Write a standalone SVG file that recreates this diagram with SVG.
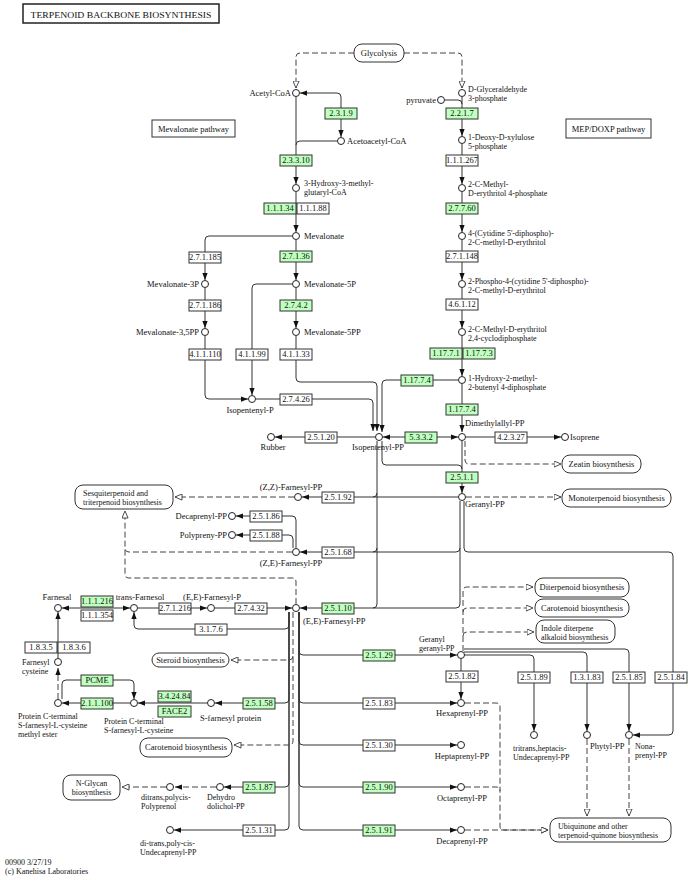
<svg xmlns="http://www.w3.org/2000/svg" width="697" height="881" viewBox="0 0 697 881">
<defs>
<style>
text{font-family:"Liberation Serif","Times New Roman",serif;font-size:8.5px;fill:#111}
.s{font-size:8px}
.t{text-anchor:middle}
.r{text-anchor:end}
.e{fill:#fff;stroke:#333;stroke-width:1}
.g{fill:#bfffbf;stroke:#333;stroke-width:1}
.c{fill:#fff;stroke:#222;stroke-width:1}
.m{fill:#fff;stroke:#333;stroke-width:1}
.l{fill:none;stroke:#333;stroke-width:1}
.d{fill:none;stroke:#444;stroke-width:1;stroke-dasharray:6,3}
.ae{marker-end:url(#a)}
.ab{marker-start:url(#a);marker-end:url(#a)}
.oe{marker-end:url(#o)}
</style>
<marker id="a" viewBox="0 0 8 6" refX="8" refY="3" markerWidth="7" markerHeight="5.5" markerUnits="userSpaceOnUse" orient="auto-start-reverse"><path d="M0,0L8,3L0,6z" fill="#111"/></marker>
<marker id="o" viewBox="0 0 9 8" refX="8.5" refY="4" markerWidth="8" markerHeight="7" markerUnits="userSpaceOnUse" orient="auto"><path d="M0.5,0.5L8.5,4L0.5,7.5z" fill="#fff" stroke="#333" stroke-width="1"/></marker>
</defs>
<rect width="697" height="881" fill="#fff"/>

<g id="connectors">
<path class="l ab" d="M341,137V97Q341,93 337,93H300"/>
<path class="l ae" d="M296,97V184"/>
<path class="l" d="M337,141H300Q296,141 296,145"/>
<path class="l ae" d="M296,192V232"/>
<path class="l ae" d="M296,240V280"/>
<path class="l ae" d="M296,288V328"/>
<path class="l ae" d="M292,236H209Q205,236 205,240V280"/>
<path class="l ae" d="M205,288V328"/>
<path class="l ae" d="M205,336V395Q205,399 209,399H248"/>
<path class="l ae" d="M292,284H256Q252,284 252,288V395"/>
<path class="l ae" d="M256,399H369Q373,399 373,403V431"/>
<path class="l ae" d="M296,336V378Q296,382 300,382H373Q377,382 377,386V431"/>
<path class="l ae" d="M458,380H386Q382,380 382,384V432"/>
<path class="l ae" d="M462,97V136"/>
<path class="l ae" d="M462,144V184"/>
<path class="l ae" d="M462,192V232"/>
<path class="l ae" d="M462,240V280"/>
<path class="l ae" d="M462,288V328"/>
<path class="l ae" d="M462,336V376"/>
<path class="l ae" d="M462,384V432"/>
<path class="l" d="M445,100H458Q462,100 462,104"/>
<path class="l ab" d="M383,437H458"/>
<path class="l ae" d="M375,437H275"/>
<path class="l ae" d="M466,437H561"/>
<path class="l ae" d="M462,441V493"/>
<path class="l" d="M382,441V461Q382,465 386,465H458Q462,465 462,469"/>
<path class="l ae" d="M458,497H302"/>
<path class="l" d="M377,441V604Q377,608 373,608"/>
<path class="l" d="M377,493Q377,497 373,497"/>
<path class="l" d="M377,548Q377,552 373,552"/>
<path class="l ae" d="M460,501V604Q460,608 456,608H300"/>
<path class="l ae" d="M460,548Q460,552 456,552H300"/>
<path class="l ae" d="M464,501V548Q464,552 468,552H669Q673,552 673,556V731Q673,735 669,735H633"/>
<path class="l ae" d="M296,548V520Q296,516 292,516H236"/>
<path class="l ae" d="M293,548V539Q293,535 289,535H236"/>
<path class="l ab" d="M62,608H130"/>
<path class="l ae" d="M138,608H207"/>
<path class="l ae" d="M215,608H292"/>
<path class="l ae" d="M289,612V625Q289,629 285,629H138Q134,629 134,625V612"/>
<path class="l ae" d="M58,658V612"/>
<path class="l ae" d="M62,699V684Q62,680 66,680H130Q134,680 134,684V699"/>
<path class="l ae" d="M130,703H62"/>
<path class="l ae" d="M207,703H138"/>
<path class="l ae" d="M289,612V699Q289,703 285,703H215"/>
<path class="l ae" d="M289,612V783Q289,787 285,787H224"/>
<path class="l ae" d="M289,612V826Q289,830 285,830H174"/>
<path class="l ae" d="M299,612V651Q299,655 303,655H457"/>
<path class="l ae" d="M299,612V699Q299,703 303,703H457"/>
<path class="l ae" d="M299,612V741Q299,745 303,745H457"/>
<path class="l ae" d="M299,612V783Q299,787 303,787H457"/>
<path class="l ae" d="M299,612V826Q299,830 303,830H457"/>
<path class="l ae" d="M461,659V699"/>
<path class="l ae" d="M464,655H530Q534,655 534,659V731"/>
<path class="l ae" d="M464,652H583Q587,652 587,656V731"/>
<path class="l ae" d="M464,649H625Q629,649 629,653V731"/>
<path class="d oe" d="M354,53H300Q296,53 296,57V88"/>
<path class="d oe" d="M404,53H458Q462,53 462,57V88"/>
<path class="d oe" d="M465,441V460Q465,464 469,464H561"/>
<path class="d oe" d="M466,497H561"/>
<path class="d oe" d="M294,497H175"/>
<path class="d oe" d="M296,604V582Q296,578 292,578H129Q125,578 125,574V511"/>
<path class="d" d="M292,552H129Q125,552 125,548"/>
<path class="d oe" d="M293,612V741Q293,745 289,745H234"/>
<path class="d oe" d="M293,656Q293,660 289,660H231"/>
<path class="d oe" d="M166,787H122"/>
<path class="d ae" d="M216,787H175"/>
<path class="d ae" d="M58,699V668"/>
<path class="d oe" d="M463,651V591Q463,587 467,587H533"/>
<path class="d oe" d="M463,612Q463,608 467,608H533"/>
<path class="d oe" d="M463,636Q463,632 467,632H534"/>
<path class="d oe" d="M587,739V816"/>
<path class="d oe" d="M629,739V816"/>
<path class="d oe" d="M465,703H496Q500,703 500,707V826Q500,830 504,830H548"/>
<path class="d" d="M465,787H496Q500,787 500,791"/>
<path class="d oe" d="M465,830H548"/>
</g>

<g id="title"><rect x="23" y="4" width="196" height="19" fill="#fff" stroke="#222" stroke-width="1.5"/><text class="t" x="121" y="17.5" font-size="10" textLength="181" lengthAdjust="spacingAndGlyphs">TERPENOID BACKBONE BIOSYNTHESIS</text></g>
<g id="mevalonate-pathway"><rect class="m" x="152" y="120" width="83" height="17"/><text class="t" x="193.5" y="131.5">Mevalonate pathway</text></g>
<g id="mep-pathway"><rect class="m" x="566" y="119" width="85" height="19"/><text class="t" x="608.5" y="131.5">MEP/DOXP pathway</text></g>

<g id="map-glycolysis"><rect class="m" x="354" y="44" width="50" height="18" rx="8"/><text class="t" x="379" y="56">Glycolysis</text></g>
<g id="map-zeatin"><rect class="m" x="562" y="455" width="79" height="18" rx="8"/><text class="t" x="601.5" y="467">Zeatin biosynthesis</text></g>
<g id="map-monoterpenoid"><rect class="m" x="562" y="489" width="109" height="18" rx="8"/><text class="t" x="616.5" y="501">Monoterpenoid biosynthesis</text></g>
<g id="map-sesquiterpenoid"><rect class="m" x="75" y="485" width="98" height="24" rx="8"/><text class="s" x="83" y="495.5">Sesquiterpenoid and<tspan x="83" y="504.5">triterpenoid biosynthesis</tspan></text></g>
<g id="map-diterpenoid"><rect class="m" x="535" y="578" width="94" height="19" rx="8"/><text class="t" x="582" y="590">Diterpenoid biosynthesis</text></g>
<g id="map-carotenoid-r"><rect class="m" x="535" y="599" width="94" height="18" rx="8"/><text class="t" x="582" y="611">Carotenoid biosynthesis</text></g>
<g id="map-indole"><rect class="m" x="536" y="620" width="79" height="23" rx="8"/><text class="s" x="541" y="630.5">Indole diterpene<tspan x="541" y="639.5">alkaloid biosynthesis</tspan></text></g>
<g id="map-steroid"><rect class="m" x="152" y="653" width="77" height="14" rx="7"/><text class="t" x="190.5" y="663">Steroid biosynthesis</text></g>
<g id="map-carotenoid-l"><rect class="m" x="140" y="738" width="92" height="19" rx="8"/><text class="t" x="186" y="750">Carotenoid biosynthesis</text></g>
<g id="map-nglycan"><rect class="m" x="63" y="775" width="57" height="25" rx="8"/><text class="t s" x="91.5" y="786">N-Glycan<tspan x="91.5" y="795">biosynthesis</tspan></text></g>
<g id="map-ubiquinone"><rect class="m" x="550" y="818" width="121" height="24" rx="8"/><text class="s" x="558" y="828.5">Ubiquinone and other<tspan x="558" y="837.5">terpenoid-quinone biosynthesis</tspan></text></g>

<g id="ec2-3-1-9"><rect class="g" x="325" y="108" width="32" height="11"/><text class="t" x="341" y="116.3">2.3.1.9</text></g>
<g id="ec2-3-3-10"><rect class="g" x="280" y="155" width="32" height="11"/><text class="t" x="296" y="163.3">2.3.3.10</text></g>
<g id="ec1-1-1-34"><rect class="g" x="264" y="203" width="32" height="11"/><text class="t" x="280" y="211.3">1.1.1.34</text></g>
<g id="ec1-1-1-88"><rect class="e" x="297" y="203" width="32" height="11"/><text class="t" x="313" y="211.3">1.1.1.88</text></g>
<g id="ec2-2-1-7"><rect class="g" x="446" y="108" width="32" height="11"/><text class="t" x="462" y="116.3">2.2.1.7</text></g>
<g id="ec1-1-1-267"><rect class="e" x="446" y="155" width="32" height="11"/><text class="t" x="462" y="163.3">1.1.1.267</text></g>
<g id="ec2-7-7-60"><rect class="g" x="446" y="203" width="32" height="11"/><text class="t" x="462" y="211.3">2.7.7.60</text></g>
<g id="ec2-7-1-148"><rect class="e" x="446" y="251" width="32" height="11"/><text class="t" x="462" y="259.3">2.7.1.148</text></g>
<g id="ec4-6-1-12"><rect class="e" x="446" y="299" width="32" height="11"/><text class="t" x="462" y="307.3">4.6.1.12</text></g>
<g id="ec1-17-7-1"><rect class="g" x="430" y="348" width="32" height="11"/><text class="t" x="446" y="356.3">1.17.7.1</text></g>
<g id="ec1-17-7-3"><rect class="g" x="463" y="348" width="32" height="11"/><text class="t" x="479" y="356.3">1.17.7.3</text></g>
<g id="ec1-17-7-4b"><rect class="g" x="446" y="404" width="32" height="11"/><text class="t" x="462" y="412.3">1.17.7.4</text></g>
<g id="ec2-7-1-185"><rect class="e" x="189" y="252" width="32" height="11"/><text class="t" x="205" y="260.3">2.7.1.185</text></g>
<g id="ec2-7-1-186"><rect class="e" x="189" y="300" width="32" height="11"/><text class="t" x="205" y="308.3">2.7.1.186</text></g>
<g id="ec4-1-1-110"><rect class="e" x="189" y="349" width="32" height="11"/><text class="t" x="205" y="357.3">4.1.1.110</text></g>
<g id="ec2-7-1-36"><rect class="g" x="280" y="251" width="32" height="11"/><text class="t" x="296" y="259.3">2.7.1.36</text></g>
<g id="ec2-7-4-2"><rect class="g" x="280" y="300" width="32" height="11"/><text class="t" x="296" y="308.3">2.7.4.2</text></g>
<g id="ec4-1-1-99"><rect class="e" x="236" y="349" width="32" height="11"/><text class="t" x="252" y="357.3">4.1.1.99</text></g>
<g id="ec4-1-1-33"><rect class="e" x="280" y="349" width="32" height="11"/><text class="t" x="296" y="357.3">4.1.1.33</text></g>
<g id="ec2-7-4-26"><rect class="e" x="280" y="394" width="32" height="11"/><text class="t" x="296" y="402.3">2.7.4.26</text></g>
<g id="ec1-17-7-4a"><rect class="g" x="401" y="375" width="32" height="11"/><text class="t" x="417" y="383.3">1.17.7.4</text></g>
<g id="ec2-5-1-20"><rect class="e" x="305" y="432" width="32" height="11"/><text class="t" x="321" y="440.3">2.5.1.20</text></g>
<g id="ec5-3-3-2"><rect class="g" x="405" y="432" width="32" height="11"/><text class="t" x="421" y="440.3">5.3.3.2</text></g>
<g id="ec4-2-3-27"><rect class="e" x="495" y="432" width="32" height="11"/><text class="t" x="511" y="440.3">4.2.3.27</text></g>
<g id="ec2-5-1-1"><rect class="g" x="446" y="472" width="32" height="11"/><text class="t" x="462" y="480.3">2.5.1.1</text></g>
<g id="ec2-5-1-92"><rect class="e" x="322" y="492" width="32" height="11"/><text class="t" x="338" y="500.3">2.5.1.92</text></g>
<g id="ec2-5-1-86"><rect class="e" x="250" y="511" width="32" height="11"/><text class="t" x="266" y="519.3">2.5.1.86</text></g>
<g id="ec2-5-1-88"><rect class="e" x="250" y="530" width="32" height="11"/><text class="t" x="266" y="538.3">2.5.1.88</text></g>
<g id="ec2-5-1-68"><rect class="e" x="322" y="547" width="32" height="11"/><text class="t" x="338" y="555.3">2.5.1.68</text></g>
<g id="ec1-1-1-216"><rect class="g" x="81" y="596" width="32" height="11"/><text class="t" x="97" y="604.3">1.1.1.216</text></g>
<g id="ec1-1-1-354"><rect class="e" x="81" y="610" width="32" height="11"/><text class="t" x="97" y="618.3">1.1.1.354</text></g>
<g id="ec2-7-1-216"><rect class="e" x="159" y="603" width="32" height="11"/><text class="t" x="175" y="611.3">2.7.1.216</text></g>
<g id="ec2-7-4-32"><rect class="e" x="235" y="603" width="32" height="11"/><text class="t" x="251" y="611.3">2.7.4.32</text></g>
<g id="ec2-5-1-10"><rect class="g" x="322" y="603" width="32" height="11"/><text class="t" x="338" y="611.3">2.5.1.10</text></g>
<g id="ec3-1-7-6"><rect class="e" x="195" y="624" width="32" height="11"/><text class="t" x="211" y="632.3">3.1.7.6</text></g>
<g id="ec1-8-3-5"><rect class="e" x="25" y="642" width="32" height="11"/><text class="t" x="41" y="650.3">1.8.3.5</text></g>
<g id="ec1-8-3-6"><rect class="e" x="58" y="642" width="32" height="11"/><text class="t" x="74" y="650.3">1.8.3.6</text></g>
<g id="ec2-5-1-29"><rect class="g" x="363" y="650" width="32" height="11"/><text class="t" x="379" y="658.3">2.5.1.29</text></g>
<g id="pcme"><rect class="g" x="81" y="675" width="32" height="11"/><text class="t" x="97" y="683.3">PCME</text></g>
<g id="ec2-1-1-100"><rect class="g" x="81" y="698" width="32" height="11"/><text class="t" x="97" y="706.3">2.1.1.100</text></g>
<g id="ec3-4-24-84"><rect class="g" x="158" y="691" width="33" height="11"/><text class="t" x="174.5" y="699.3">3.4.24.84</text></g>
<g id="face2"><rect class="g" x="158" y="706" width="33" height="11"/><text class="t" x="174.5" y="714.3">FACE2</text></g>
<g id="ec2-5-1-58"><rect class="g" x="243" y="698" width="32" height="11"/><text class="t" x="259" y="706.3">2.5.1.58</text></g>
<g id="ec2-5-1-83"><rect class="e" x="363" y="698" width="32" height="11"/><text class="t" x="379" y="706.3">2.5.1.83</text></g>
<g id="ec2-5-1-82"><rect class="e" x="446" y="671" width="32" height="11"/><text class="t" x="462" y="679.3">2.5.1.82</text></g>
<g id="ec2-5-1-89"><rect class="e" x="518" y="672" width="32" height="11"/><text class="t" x="534" y="680.3">2.5.1.89</text></g>
<g id="ec1-3-1-83"><rect class="e" x="571" y="672" width="32" height="11"/><text class="t" x="587" y="680.3">1.3.1.83</text></g>
<g id="ec2-5-1-85"><rect class="e" x="613" y="672" width="32" height="11"/><text class="t" x="629" y="680.3">2.5.1.85</text></g>
<g id="ec2-5-1-84"><rect class="e" x="655" y="672" width="32" height="11"/><text class="t" x="671" y="680.3">2.5.1.84</text></g>
<g id="ec2-5-1-30"><rect class="e" x="363" y="740" width="32" height="11"/><text class="t" x="379" y="748.3">2.5.1.30</text></g>
<g id="ec2-5-1-87"><rect class="g" x="243" y="782" width="32" height="11"/><text class="t" x="259" y="790.3">2.5.1.87</text></g>
<g id="ec2-5-1-90"><rect class="g" x="363" y="782" width="32" height="11"/><text class="t" x="379" y="790.3">2.5.1.90</text></g>
<g id="ec2-5-1-31"><rect class="e" x="243" y="825" width="32" height="11"/><text class="t" x="259" y="833.3">2.5.1.31</text></g>
<g id="ec2-5-1-91"><rect class="g" x="363" y="825" width="32" height="11"/><text class="t" x="379" y="833.3">2.5.1.91</text></g>

<g id="c-acetylcoa"><circle class="c" cx="296" cy="93" r="3.5"/><text class="r" x="291" y="96">Acetyl-CoA</text></g>
<g id="c-acetoacetylcoa"><circle class="c" cx="341" cy="141" r="3.5"/><text x="347" y="144">Acetoacetyl-CoA</text></g>
<g id="c-hmgcoa"><circle class="c" cx="296" cy="188" r="3.5"/><text class="s" x="304" y="185.5">3-Hydroxy-3-methyl-<tspan x="304" y="194.5">glutaryl-CoA</tspan></text></g>
<g id="c-mevalonate"><circle class="c" cx="296" cy="236" r="3.5"/><text x="304" y="239">Mevalonate</text></g>
<g id="c-mev5p"><circle class="c" cx="296" cy="284" r="3.5"/><text x="304" y="287">Mevalonate-5P</text></g>
<g id="c-mev5pp"><circle class="c" cx="296" cy="332" r="3.5"/><text x="304" y="335">Mevalonate-5PP</text></g>
<g id="c-mev3p"><circle class="c" cx="205" cy="284" r="3.5"/><text class="r" x="199" y="287">Mevalonate-3P</text></g>
<g id="c-mev35pp"><circle class="c" cx="205" cy="332" r="3.5"/><text class="r" x="199" y="335">Mevalonate-3,5PP</text></g>
<g id="c-ipentenylp"><circle class="c" cx="252" cy="399" r="3.5"/><text class="t" x="250" y="413">Isopentenyl-P</text></g>
<g id="c-ipp"><circle class="c" cx="379" cy="437" r="3.5"/><text class="t" x="378" y="450">Isopentenyl-PP</text></g>
<g id="c-rubber"><circle class="c" cx="271" cy="437" r="3.5"/><text class="t" x="273" y="450">Rubber</text></g>
<g id="c-dmapp"><circle class="c" cx="462" cy="437" r="3.5"/><text x="465" y="426">Dimethylallyl-PP</text></g>
<g id="c-isoprene"><circle class="c" cx="565" cy="437" r="3.5"/><text x="570" y="440">Isoprene</text></g>
<g id="c-gap"><circle class="c" cx="462" cy="93" r="3.5"/><text class="s" x="468" y="91.5">D-Glyceraldehyde<tspan x="468" y="100.5">3-phosphate</tspan></text></g>
<g id="c-pyruvate"><circle class="c" cx="441" cy="100" r="3.5"/><text class="r" x="436" y="103">pyruvate</text></g>
<g id="c-dxp"><circle class="c" cx="462" cy="140" r="3.5"/><text class="s" x="468" y="139.5">1-Deoxy-D-xylulose<tspan x="468" y="148.5">5-phosphate</tspan></text></g>
<g id="c-mep"><circle class="c" cx="462" cy="188" r="3.5"/><text class="s" x="468" y="187">2-C-Methyl-<tspan x="468" y="196">D-erythritol 4-phosphate</tspan></text></g>
<g id="c-cdpme"><circle class="c" cx="462" cy="236" r="3.5"/><text class="s" x="468" y="235.5">4-(Cytidine 5'-diphospho)-<tspan x="468" y="244.5">2-C-methyl-D-erythritol</tspan></text></g>
<g id="c-cdpmep"><circle class="c" cx="462" cy="284" r="3.5"/><text class="s" x="468" y="283.5">2-Phospho-4-(cytidine 5'-diphospho)-<tspan x="468" y="292.5">2-C-methyl-D-erythritol</tspan></text></g>
<g id="c-mecpp"><circle class="c" cx="462" cy="332" r="3.5"/><text class="s" x="468" y="331.5">2-C-Methyl-D-erythritol<tspan x="468" y="340.5">2,4-cyclodiphosphate</tspan></text></g>
<g id="c-hmbpp"><circle class="c" cx="462" cy="380" r="3.5"/><text class="s" x="468" y="380.5">1-Hydroxy-2-methyl-<tspan x="468" y="389.5">2-butenyl 4-diphosphate</tspan></text></g>
<g id="c-gpp"><circle class="c" cx="462" cy="497" r="3.5"/><text x="465" y="507">Geranyl-PP</text></g>
<g id="c-zzfpp"><circle class="c" cx="298" cy="497" r="3.5"/><text class="t" x="291" y="490">(Z,Z)-Farnesyl-PP</text></g>
<g id="c-decaprenylpp-a"><circle class="c" cx="232" cy="516" r="3.5"/><text class="r" x="227" y="519">Decaprenyl-PP</text></g>
<g id="c-polyprenypp"><circle class="c" cx="232" cy="535" r="3.5"/><text class="r" x="227" y="538">Polypreny-PP</text></g>
<g id="c-zefpp"><circle class="c" cx="296" cy="552" r="3.5"/><text class="t" x="291" y="566">(Z,E)-Farnesyl-PP</text></g>
<g id="c-farnesal"><circle class="c" cx="58" cy="608" r="3.5"/><text class="t" x="57" y="600">Farnesal</text></g>
<g id="c-transfarnesol"><circle class="c" cx="134" cy="608" r="3.5"/><text class="t" x="140" y="600">trans-Farnesol</text></g>
<g id="c-eefp"><circle class="c" cx="211" cy="608" r="3.5"/><text class="t" x="212" y="600">(E,E)-Farnesyl-P</text></g>
<g id="c-eefpp"><circle class="c" cx="296" cy="608" r="3.5"/><text x="303" y="624">(E,E)-Farnesyl-PP</text></g>
<g id="c-ggpp"><circle class="c" cx="461" cy="655" r="3.5"/><text class="s" x="419" y="641.5">Geranyl<tspan x="419" y="650.5">geranyl-PP</tspan></text></g>
<g id="c-farnesylcys"><circle class="c" cx="58" cy="662" r="3.5"/><text class="s" x="22" y="665">Farnesyl<tspan x="22" y="674">cysteine</tspan></text></g>
<g id="c-pcfc-me"><circle class="c" cx="58" cy="703" r="3.5"/><text class="s" x="18" y="719">Protein C-terminal<tspan x="18" y="728">S-farnesyl-L-cysteine</tspan><tspan x="18" y="737">methyl ester</tspan></text></g>
<g id="c-pcfc"><circle class="c" cx="134" cy="703" r="3.5"/><text class="s" x="104" y="723.5">Protein C-terminal<tspan x="104" y="732.5">S-farnesyl-L-cysteine</tspan></text></g>
<g id="c-sfp"><circle class="c" cx="211" cy="703" r="3.5"/><text x="200" y="721">S-farnesyl protein</text></g>
<g id="c-hexapp"><circle class="c" cx="461" cy="703" r="3.5"/><text class="t" x="462" y="716">Hexaprenyl-PP</text></g>
<g id="c-heptapp"><circle class="c" cx="461" cy="745" r="3.5"/><text class="t" x="462" y="759">Heptaprenyl-PP</text></g>
<g id="c-octapp"><circle class="c" cx="461" cy="787" r="3.5"/><text class="t" x="462" y="801">Octaprenyl-PP</text></g>
<g id="c-decaprenylpp-b"><circle class="c" cx="461" cy="830" r="3.5"/><text class="t" x="462" y="844">Decaprenyl-PP</text></g>
<g id="c-ttundecapp"><circle class="c" cx="534" cy="735" r="3.5"/><text class="s" x="513" y="750.5">tritrans,heptacis-<tspan x="513" y="759.5">Undecaprenyl-PP</tspan></text></g>
<g id="c-phytylpp"><circle class="c" cx="587" cy="735" r="3.5"/><text x="590" y="749">Phytyl-PP</text></g>
<g id="c-nonapp"><circle class="c" cx="629" cy="735" r="3.5"/><text class="s" x="635" y="749">Nona-<tspan x="635" y="758">prenyl-PP</tspan></text></g>
<g id="c-dehydrodolichol"><circle class="c" cx="220" cy="787" r="3.5"/><text class="s" x="207" y="799.5">Dehydro<tspan x="207" y="808.5">dolichol-PP</tspan></text></g>
<g id="c-polyprenol"><circle class="c" cx="170" cy="787" r="3.5"/><text class="s" x="141" y="799.5">ditrans,polycis-<tspan x="141" y="808.5">Polyprenol</tspan></text></g>
<g id="c-dtpcundecapp"><circle class="c" cx="170" cy="830" r="3.5"/><text class="s" x="140" y="845.5">di-trans,poly-cis-<tspan x="140" y="854.5">Undecaprenyl-PP</tspan></text></g>

<g id="footer"><text class="s" x="5" y="865">00900 3/27/19</text><text class="s" x="5" y="874">(c) Kanehisa Laboratories</text></g>
</svg>
